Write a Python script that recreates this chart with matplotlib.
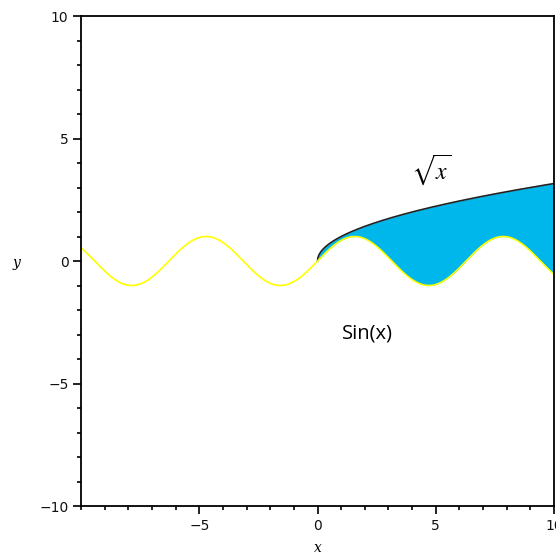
import numpy as np
import matplotlib.pyplot as plt
from matplotlib.ticker import MultipleLocator

plt.rcParams['mathtext.fontset'] = 'stix'

# plot range and the two curves shown
x_range = (-10, 10)
y_range = (-10, 10)
fill_range = (0, 10)
x_ticks = [-5, 0, 5, 10]
y_ticks = [-10, -5, 0, 5, 10]
label_sqrt = r"$\sqrt{x}$"
label_sin = "Sin(x)"

x_all = np.linspace(x_range[0], x_range[1], 800)
x_fill = np.linspace(fill_range[0], fill_range[1], 600)
sin_all = np.sin(x_all)
sin_fill = np.sin(x_fill)
sqrt_fill = np.sqrt(x_fill)

fig = plt.figure(figsize=(5.56, 5.56), dpi=100)
ax = fig.add_axes([0.1457, 0.0899, 0.8507, 0.8813])
ax.set_xlim(*x_range)
ax.set_ylim(*y_range)

ax.fill_between(x_fill, sin_fill, sqrt_fill, color='#00B7EB', linewidth=0)
ax.plot(x_fill, sqrt_fill, color='#222222', linewidth=1.2)
ax.plot(x_all, sin_all, color='#FFFF00', linewidth=1.2)

ax.set_xticks(x_ticks)
ax.set_yticks(y_ticks)
ax.xaxis.set_minor_locator(MultipleLocator(1))
ax.yaxis.set_minor_locator(MultipleLocator(1))
ax.set_xticklabels([str(t).replace('-', '\u2212') for t in x_ticks])
ax.set_yticklabels([str(t).replace('-', '\u2212') for t in y_ticks])
ax.tick_params(which='major', direction='out', length=6, width=1.3,
               labelsize=10, colors='#111111', pad=3)
ax.tick_params(which='minor', direction='out', length=3, width=1.2)
ax.tick_params(top=False, right=False, which='both')
for sp in ax.spines.values():
    sp.set_linewidth(1.3)

ax.set_xlabel('x', fontstyle='italic', family='DejaVu Serif', fontsize=10,
              va='center')
ax.set_ylabel('y', fontstyle='italic', family='DejaVu Serif', fontsize=10,
              rotation=0, va='center', ha='center')
ax.xaxis.set_label_coords(0.5, -0.086)
ax.yaxis.set_label_coords(-0.137, 0.496)

ax.text(4.8, 3.75, label_sqrt, fontsize=17, ha='center', va='center')
ax.text(2.1, -2.95, label_sin, fontsize=14.5, ha='center', va='center',
        family='Open Sans')

fig.savefig('out.png', dpi=100)
